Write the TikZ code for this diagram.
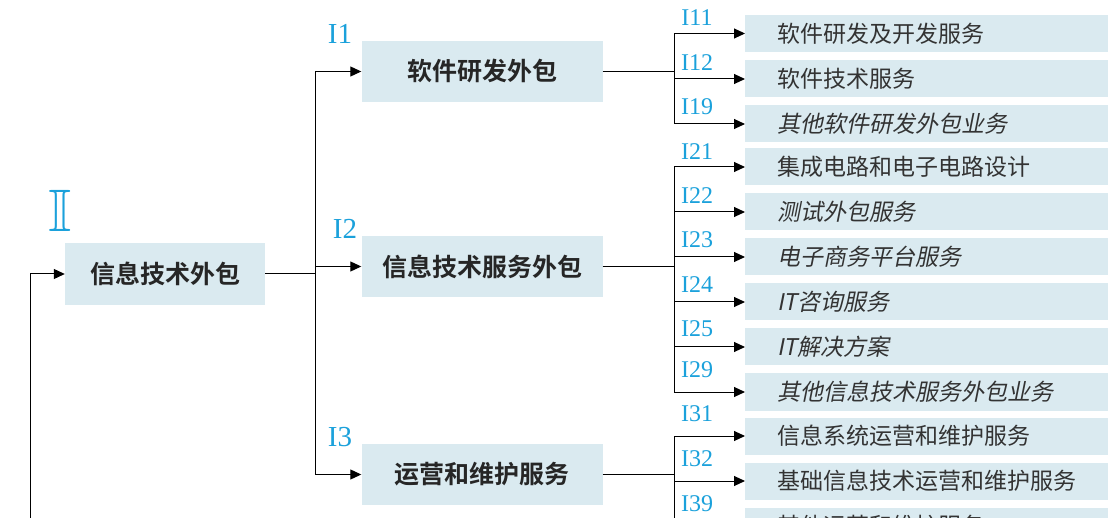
\documentclass[tikz,border=0pt]{standalone}
\usepackage{amssymb}
\usepackage{fontspec}
\usetikzlibrary{arrows.meta}
\newfontfamily\cjk{Noto Sans CJK SC}
\newfontfamily\cjkb{Noto Sans CJK SC Bold}
\newfontfamily\cjki[FakeSlant=0.2]{Noto Sans CJK SC}
\newfontfamily\lab{Liberation Serif}
\definecolor{boxblue}{HTML}{DAEAF0}
\definecolor{labcyan}{HTML}{1BA1DB}
\definecolor{txtgray}{HTML}{333333}
\begin{document}
\begin{tikzpicture}[x=1pt,y=-1pt]
\tikzstyle{every node}+=[inner sep=0pt]
\tikzstyle{group}=[fill=boxblue, minimum width=241pt, minimum height=61pt, font=\cjkb\fontsize{25}{25}\selectfont, text=black!85]
\tikzstyle{leaf}=[fill=boxblue, anchor=west, minimum height=37pt, text width=343pt, inner xsep=32pt, font=\cjk\fontsize{23}{23}\selectfont, text=txtgray]
\tikzstyle{leafit}=[leaf, font=\cjki\fontsize{23}{23}\selectfont]
\tikzstyle{code}=[text=labcyan, font=\lab\fontsize{24}{24}\selectfont]
\tikzstyle{bigcode}=[text=labcyan, font=\lab\fontsize{29}{29}\selectfont]
\tikzstyle{link}=[black, line width=1pt]
\tikzstyle{arr}=[link, -{Triangle[length=11pt,width=10pt]}]
\useasboundingbox (0,0) rectangle (1108,518);
\clip (0,0) rectangle (1108,518);
\node[text=labcyan, scale=6] (cI) at (60,211) {\normalsize$\mathbb{I}$};
\node[group, minimum width=200pt, minimum height=62pt] (root) at (165,274) {信息技术外包};
\node[bigcode] (c1) at (340,34) {I1};
\node[bigcode] (c2) at (345,229) {I2};
\node[bigcode] (c3) at (340,437) {I3};
\node[group] (n1) at (482,71.5) {软件研发外包};
\node[group] (n2) at (482,266.5) {信息技术服务外包};
\node[group] (n3) at (482,474.5) {运营和维护服务};
\node[code] (c11) at (697,18) {I11};
\node[code] (c12) at (697,63) {I12};
\node[code] (c19) at (697,107) {I19};
\node[code] (c21) at (697,152) {I21};
\node[code] (c22) at (697,196) {I22};
\node[code] (c23) at (697,240) {I23};
\node[code] (c24) at (697,285) {I24};
\node[code] (c25) at (697,329) {I25};
\node[code] (c29) at (697,370) {I29};
\node[code] (c31) at (697,414) {I31};
\node[code] (c32) at (697,459) {I32};
\node[code] (c39) at (697,504) {I39};
\node[leaf] (l11) at (745,33.5) {软件研发及开发服务};
\node[leaf] (l12) at (745,79) {软件技术服务};
\node[leafit] (l19) at (745,124) {其他软件研发外包业务};
\node[leaf] (l21) at (745,167) {集成电路和电子电路设计};
\node[leafit] (l22) at (745,212) {测试外包服务};
\node[leafit] (l23) at (745,257) {电子商务平台服务};
\node[leafit] (l24) at (745,302) {IT咨询服务};
\node[leafit] (l25) at (745,347) {IT解决方案};
\node[leafit] (l29) at (745,392) {其他信息技术服务外包业务};
\node[leaf] (l31) at (745,436) {信息系统运营和维护服务};
\node[leaf] (l32) at (745,481) {基础信息技术运营和维护服务};
\node[leaf] (l39) at (745,526) {其他运营和维护服务};
\coordinate (src) at (30,560);
\coordinate (j0) at (315,274);
\coordinate (j1) at (674,71.5);
\coordinate (j2) at (674,266.5);
\coordinate (j3) at (674,474.5);
\draw[arr] (src) |- (root.west);
\draw[link] (root.east) -- (j0);
\draw[link] (j0 |- n1) -- (j0 |- n3);
\draw[arr] (j0 |- n1) -- (n1.west);
\draw[arr] (j0 |- n2) -- (n2.west);
\draw[arr] (j0 |- n3) -- (n3.west);
\draw[link] (n1.east) -- (j1);
\draw[link] (j1 |- l11) -- (j1 |- l19);
\draw[arr] (j1 |- l11) -- (l11.west);
\draw[arr] (j1 |- l12) -- (l12.west);
\draw[arr] (j1 |- l19) -- (l19.west);
\draw[link] (n2.east) -- (j2);
\draw[link] (j2 |- l21) -- (j2 |- l29);
\draw[arr] (j2 |- l21) -- (l21.west);
\draw[arr] (j2 |- l22) -- (l22.west);
\draw[arr] (j2 |- l23) -- (l23.west);
\draw[arr] (j2 |- l24) -- (l24.west);
\draw[arr] (j2 |- l25) -- (l25.west);
\draw[arr] (j2 |- l29) -- (l29.west);
\draw[link] (n3.east) -- (j3);
\draw[link] (j3 |- l31) -- (j3 |- l39);
\draw[arr] (j3 |- l31) -- (l31.west);
\draw[arr] (j3 |- l32) -- (l32.west);
\draw[arr] (j3 |- l39) -- (l39.west);
\end{tikzpicture}
\end{document}
